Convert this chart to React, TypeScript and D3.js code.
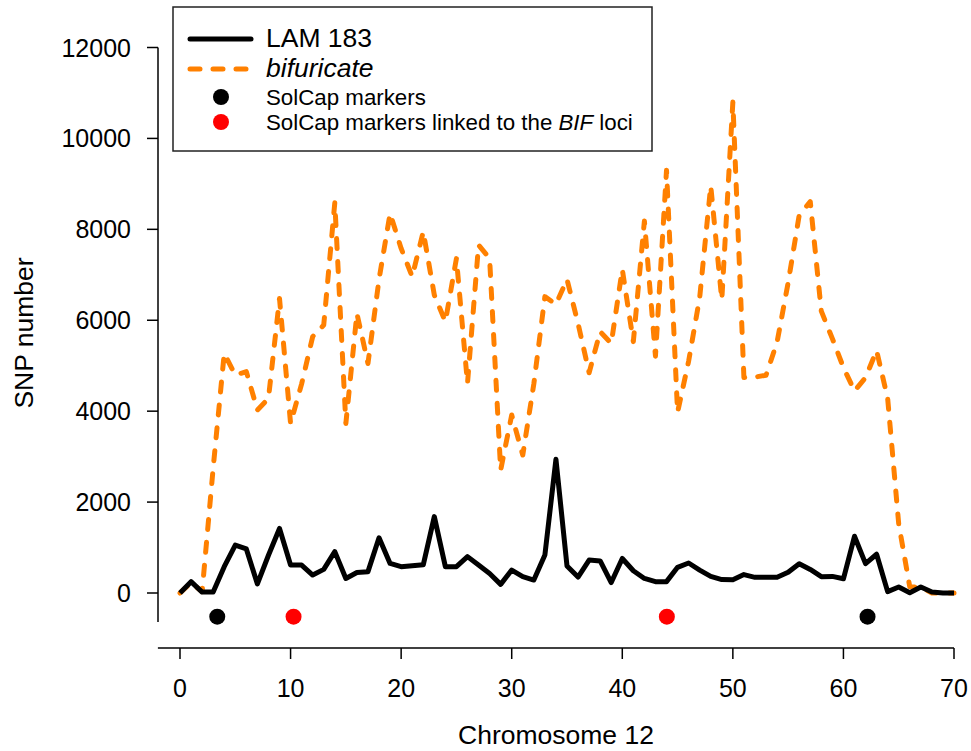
import React from "react";
import * as d3 from "d3";

const positions = d3.range(0, 71);

const lam183 = [
  0, 250, 20, 20, 580, 1055, 970, 200, 830, 1420,
  615, 615, 395, 520, 910, 320, 450, 470, 1215, 650,
  580, 600, 620, 1680, 580, 580, 800, 615, 430, 190,
  505, 360, 285, 835, 2940, 595, 350, 725, 705, 230,
  760, 490, 320, 250, 250, 565, 660, 505, 365, 295,
  290, 405, 345, 345, 345, 455, 645, 518, 360, 365,
  312, 1248, 645, 852, 30, 132, 5, 132, 20, 0,
  0,
];

const bifuricate = [
  0, 230, 30, 2750, 5270, 4795, 4870, 4025, 4280, 6480,
  3730, 4600, 5640, 5895, 8585, 3730, 6150, 5050, 6900, 8350,
  7580, 6960, 7950, 6555, 5970, 7360, 4610, 7655, 7360, 2705,
  3915, 3035, 4600, 6520, 6350, 6900, 5930, 4845, 5750, 5490,
  7120, 5530, 8185, 5210, 9300, 3975, 5100, 6500, 8960, 6450,
  10800, 4740, 4750, 4790, 5520, 6825, 8310, 8610, 6200, 5595,
  4960, 4445, 4740, 5335, 4280, 1520, 135, 130, 0, 0,
  0,
];

const solcapMarkers = [3.37, 62.18];
const linkedMarkers = [10.27, 44.03];
const markerLevel = -520;

const xTicks = [0, 10, 20, 30, 40, 50, 60, 70];
const yTicks = [0, 2000, 4000, 6000, 8000, 10000, 12000];

const FONT = "'Liberation Sans', Arial, Helvetica, sans-serif";
const ORANGE = "#FF8000";

export default function App() {
  const x = d3.scaleLinear().domain([0, 70]).range([180, 954]);
  const y = d3.scaleLinear().domain([0, 12000]).range([593, 47.5]);

  const line = d3
    .line<number>()
    .x((_, i) => x(positions[i]))
    .y((d) => y(d));

  const xAxisY = 648;
  const yAxisX = 158;

  return (
    <svg
      width={971}
      height={751}
      style={{ position: "absolute", left: 0, top: 0, background: "#fff" }}
      fontFamily={FONT}
    >
      <rect x={0} y={0} width={971} height={751} fill="#fff" />

      {/* Y axis */}
      <line x1={yAxisX} x2={yAxisX} y1={y(12000)} y2={622} stroke="#000" strokeWidth={1.5} />
      {yTicks.map((t) => (
        <g key={t}>
          <line x1={yAxisX - 11} x2={yAxisX} y1={y(t)} y2={y(t)} stroke="#000" strokeWidth={1.5} />
          <text x={131} y={y(t) + 9} textAnchor="end" fontSize={25} fill="#000">
            {t}
          </text>
        </g>
      ))}

      {/* X axis */}
      <line x1={x(-2)} x2={x(70)} y1={xAxisY} y2={xAxisY} stroke="#000" strokeWidth={1.5} />
      {xTicks.map((t) => (
        <g key={t}>
          <line x1={x(t)} x2={x(t)} y1={xAxisY} y2={xAxisY + 11} stroke="#000" strokeWidth={1.5} />
          <text x={x(t)} y={697} textAnchor="middle" fontSize={25} fill="#000">
            {t}
          </text>
        </g>
      ))}

      {/* Axis titles */}
      <text x={556} y={744} textAnchor="middle" fontSize={26.5} fill="#000">
        Chromosome 12
      </text>
      <text
        transform={`translate(33, 333) rotate(-90)`}
        textAnchor="middle"
        fontSize={26.5}
        fill="#000"
      >
        SNP number
      </text>

      {/* Lines */}
      <path
        d={line(bifuricate) || ""}
        fill="none"
        stroke={ORANGE}
        strokeWidth={5}
        strokeDasharray="10 13"
        strokeLinecap="round"
        strokeLinejoin="round"
      />
      <path
        d={line(lam183) || ""}
        fill="none"
        stroke="#000"
        strokeWidth={5}
        strokeLinejoin="round"
      />

      {/* Markers */}
      {solcapMarkers.map((m) => (
        <circle key={"b" + m} cx={x(m)} cy={y(markerLevel)} r={8} fill="#000" />
      ))}
      {linkedMarkers.map((m) => (
        <circle key={"r" + m} cx={x(m)} cy={y(markerLevel)} r={8} fill="#FF0000" />
      ))}

      {/* Legend */}
      <rect x={173} y={7} width={479} height={144} fill="#fff" stroke="#222" strokeWidth={1.5} />
      <line x1={190} x2={251} y1={39} y2={39} stroke="#000" strokeWidth={5} strokeLinecap="round" />
      <text x={266} y={47} fontSize={26.5} fill="#000">LAM 183</text>
      <line
        x1={190}
        x2={251}
        y1={69}
        y2={69}
        stroke={ORANGE}
        strokeWidth={5}
        strokeDasharray="10 13"
        strokeLinecap="round"
      />
      <text x={266} y={77} fontSize={26.5} fontStyle="italic" fill="#000">bifuricate</text>
      <circle cx={221} cy={97} r={8} fill="#000" />
      <text x={266} y={105} fontSize={22.3} fill="#000">SolCap markers</text>
      <circle cx={221} cy={122} r={8} fill="#FF0000" />
      <text x={266} y={130} fontSize={22.3} fill="#000">
        SolCap markers linked to the <tspan fontStyle="italic">BIF</tspan> loci
      </text>
    </svg>
  );
}
